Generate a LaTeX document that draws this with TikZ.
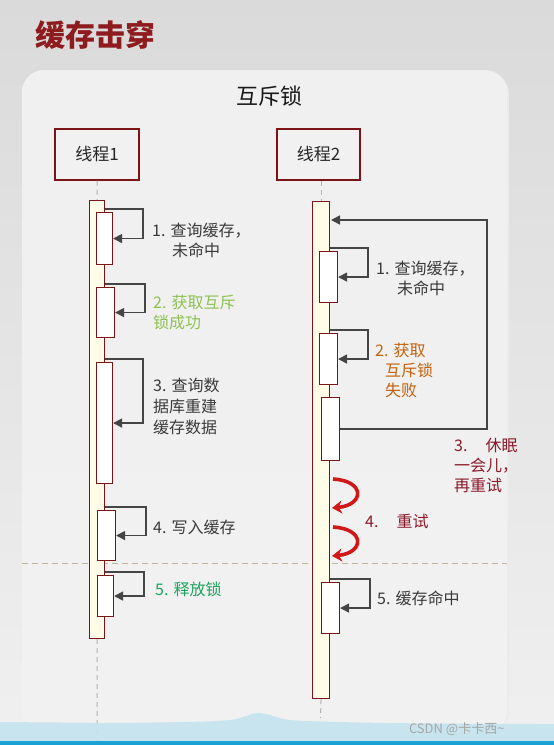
\documentclass[tikz,border=0pt]{standalone}
\usepackage{fontspec}
\setmainfont{Noto Sans CJK SC}
\usetikzlibrary{arrows.meta}
\definecolor{boxred}{HTML}{7B1416}
\definecolor{barfill}{HTML}{FFFDE7}
\definecolor{panelc}{HTML}{F1F1F1}
\definecolor{arrowgray}{HTML}{454545}
\definecolor{labelgray}{HTML}{3A3A3A}
\definecolor{greenA}{HTML}{8DC152}
\definecolor{greenB}{HTML}{1EA35E}
\definecolor{orangeA}{HTML}{C2620C}
\definecolor{darkredA}{HTML}{8B1A2A}
\definecolor{retryred}{HTML}{D01818}
\definecolor{titlered}{HTML}{8E1B1E}
\definecolor{bgtop}{HTML}{DADADA}
\definecolor{bgbot}{HTML}{F0F0F0}
\definecolor{wave}{HTML}{C4E4EF}
\definecolor{strip}{HTML}{1BA1D4}
\definecolor{sepline}{HTML}{C2B59C}
\newcommand\mylines[1]{\begin{tabular}[t]{@{}l@{}}#1\end{tabular}}
\begin{document}
\begin{tikzpicture}[x=1pt,y=-1pt,
  font=\fontsize{16}{20}\selectfont,
  hdr/.style={draw=boxred, line width=1.3pt, fill=panelc, minimum width=84pt, minimum height=51pt, inner sep=0pt, font=\fontsize{17}{20}\selectfont, text=black!85},
  actbar/.style={draw=boxred, line width=1.1pt, fill=barfill, anchor=north west, inner sep=0pt},
  actbox/.style={draw=boxred, line width=1.1pt, fill=white, anchor=north west, inner sep=0pt},
  selfarrow/.style={draw=arrowgray, line width=1.5pt, -{Triangle[length=9pt,width=9pt]}},
  lifeline/.style={draw=gray!60, line width=1pt, dash pattern=on 5pt off 4pt},
  lbl/.style={anchor=base west, inner sep=0pt, text=labelgray},
  redarrow/.style={draw=retryred, line width=3.6pt, -{Stealth[length=10pt,width=13pt]}},
]
\useasboundingbox (0,0) rectangle (554,745);
% background
\shade[top color=bgtop, bottom color=bgbot] (0,0) rectangle (554,745);
% panel
\fill[black!8, rounded corners=22pt] (23,72) rectangle (509,735);
\shade[top color=black!6, bottom color=panelc, rounded corners=22pt] (22,70) rectangle (507,733);
% title
\node[font=\fontsize{30}{34}\selectfont\bfseries, text=titlered] (title) at (95,35) {缓存击穿};
\node[font=\fontsize{22}{26}\selectfont, text=black!90] (sub) at (269.5,96) {互斥锁};
% separator
\draw[sepline, line width=0.8pt, dash pattern=on 6pt off 4pt] (22,563) -- (507,563);
% headers
\node[hdr] (h1) at (97,154.5) {线程1};
\node[hdr, minimum width=83pt] (h2) at (318.5,154.5) {线程2};
% bars
\node[actbar, minimum width=15pt, minimum height=438pt] (bar1) at (89,200) {};
\node[actbar, minimum width=17pt, minimum height=497pt] (bar2) at (312,201) {};
\draw[lifeline] (h1.south) -- (bar1.north);
\draw[lifeline] (bar1.south) -- (97,745);
\draw[lifeline] (bar2.north |- h2.south) -- (bar2.north);
\draw[lifeline] (bar2.south) -- (320.5,718);
% thread 1 boxes
\node[actbox, minimum width=16pt, minimum height=52pt] (b1) at (96,212) {};
\node[actbox, minimum width=18pt, minimum height=50pt] (b2) at (96,287) {};
\node[actbox, minimum width=16pt, minimum height=121pt] (b3) at (96,362) {};
\node[actbox, minimum width=18pt, minimum height=50pt] (b4) at (97,510) {};
\node[actbox, minimum width=16pt, minimum height=41pt] (b5) at (97,575) {};
% thread 2 boxes
\node[actbox, minimum width=18pt, minimum height=51pt] (c1) at (319,251) {};
\node[actbox, minimum width=18pt, minimum height=51pt] (c2) at (319,333) {};
\node[actbox, minimum width=18pt, minimum height=63pt] (c3) at (321,397) {};
\node[actbox, minimum width=18pt, minimum height=51pt] (c4) at (321,582) {};
% self arrows
\foreach \b in {b1,b2,b3,b4,b5}{
  \draw[selfarrow] ([yshift=3pt]\b.north -| bar1.east) -| ([xshift=30pt]\b.east) -- (\b.east);
}
\foreach \b in {c1,c2,c4}{
  \draw[selfarrow] ([yshift=3pt]\b.north -| bar2.east) -| ([xshift=30pt]\b.east) -- (\b.east);
}
% return arrow
\coordinate (ret) at (331,220);
\coordinate (corner) at (487,220);
\draw[selfarrow] (c3.east) -| (corner) -- (ret);
% retry arrows
\coordinate (r1s) at (333,479);
\coordinate (r1e) at (332,508);
\coordinate (r2s) at (333,527);
\coordinate (r2e) at (332,556);
\draw[redarrow] (r1s) .. controls (366,481) and (364,505) .. (r1e);
\draw[redarrow] (r2s) .. controls (366,529) and (364,553) .. (r2e);
% labels thread 1
\node[lbl] (l1) at (152,236) {\mylines{1.\hspace{5pt}查询缓存，\\\hspace{20pt}未命中}};
\node[lbl, text=greenA] (l2) at (153,308) {\mylines{2.\hspace{5pt}获取互斥\\锁成功}};
\node[lbl] (l3) at (153,391) {\mylines{3.\hspace{5pt}查询数\\[1pt]据库重建\\[1pt]缓存数据}};
\node[lbl] (l4) at (153,533) {4.\hspace{5pt}写入缓存};
\node[lbl, text=greenB] (l5) at (155,595) {5.\hspace{5pt}释放锁};
% labels thread 2
\node[lbl] (m1) at (376,274) {\mylines{1.\hspace{5pt}查询缓存，\\\hspace{21pt}未命中}};
\node[lbl, text=orangeA] (m2) at (375,356) {\mylines{2.\hspace{5pt}获取\\\hspace{10pt}互斥锁\\\hspace{10pt}失败}};
\node[lbl, text=darkredA] (m3) at (454,451) {\mylines{3.\hspace{18pt}休眠\\一会儿，\\再重试}};
\node[lbl, text=darkredA] (m4) at (365,527) {4.\hspace{18pt}重试};
\node[lbl] (m5) at (377,604) {5.\hspace{5pt}缓存命中};
% bottom wave
\fill[wave, opacity=0.9] (0,722) -- (120,723) .. controls (180,722) and (210,722) .. (230,720)
  .. controls (245,718) and (250,713) .. (258,713) .. controls (268,713) and (275,718) .. (290,720)
  .. controls (330,723) and (450,724) .. (554,724) -- (554,741) -- (0,741) -- cycle;
\fill[strip] (0,741) rectangle (554,745);
\node[font=\fontsize{13}{15}\selectfont, text=black!35, anchor=east] (wm) at (508,729) {CSDN @卡卡西\textasciitilde};
\end{tikzpicture}
\end{document}
